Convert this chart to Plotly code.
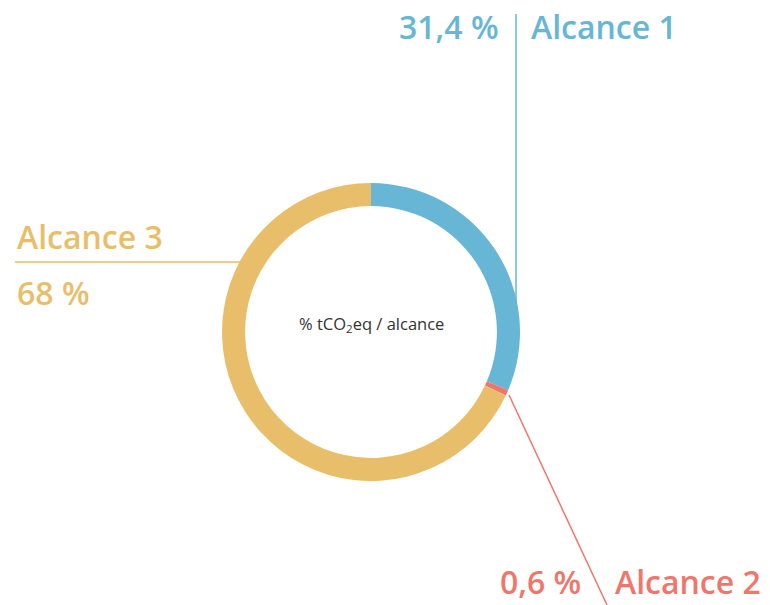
import plotly.graph_objects as go

labels = ["Alcance 1", "Alcance 2", "Alcance 3"]
values = [31.4, 0.6, 68.0]
pct_labels = ["31,4 %", "0,6 %", "68 %"]
colors = ["#67B6D5", "#F0766B", "#E9BE6B"]
center_text = "% tCO<sub>2</sub>eq / alcance"

W, H = 770, 605
cx, cy, R = 371, 332, 149

def px(x):
    return x / W

def py(y):
    return 1 - y / H

fig = go.Figure()
fig.add_trace(go.Pie(
    labels=labels, values=values, sort=False, direction="clockwise", rotation=0,
    hole=0.845, marker=dict(colors=colors, line=dict(width=0)),
    textinfo="none", hoverinfo="label+percent", showlegend=False,
    domain=dict(x=[px(cx - R), px(cx + R)], y=[py(cy + R), py(cy - R)]),
))

font_family = "'Open Sans', Lato, sans-serif"
shapes = [
    dict(type="line", xref="paper", yref="paper", x0=px(516), x1=px(516), y0=py(14), y1=py(302),
         line=dict(color=colors[0], width=1.5)),
    dict(type="line", xref="paper", yref="paper", x0=px(15), x1=px(240), y0=py(262), y1=py(262),
         line=dict(color=colors[2], width=1.5)),
    dict(type="line", xref="paper", yref="paper", x0=px(509), x1=px(607), y0=py(395), y1=py(605),
         line=dict(color=colors[1], width=1.5)),
]

big = dict(size=32, family=font_family, weight=600)
annotations = [
    dict(text=pct_labels[0], x=px(501), y=py(26), xanchor="right", yanchor="middle",
         font=dict(color=colors[0], **big)),
    dict(text=labels[0], x=px(529), y=py(26), xanchor="left", yanchor="middle",
         font=dict(color=colors[0], **big)),
    dict(text=labels[2], x=px(15), y=py(237), xanchor="left", yanchor="middle",
         font=dict(color=colors[2], **big)),
    dict(text=pct_labels[2], x=px(15), y=py(292), xanchor="left", yanchor="middle",
         font=dict(color=colors[2], **big)),
    dict(text=pct_labels[1], x=px(583), y=0, xanchor="right", yanchor="bottom",
         font=dict(color=colors[1], **big)),
    dict(text=labels[1], x=px(613), y=0, xanchor="left", yanchor="bottom",
         font=dict(color=colors[1], **big)),
    dict(text=center_text, x=px(371), y=py(324), xanchor="center", yanchor="middle",
         font=dict(size=16.5, color="#333333", family=font_family)),
]
for a in annotations:
    a.update(xref="paper", yref="paper", showarrow=False)

fig.update_layout(
    width=W, height=H, margin=dict(l=0, r=0, t=0, b=0),
    paper_bgcolor="white", plot_bgcolor="white",
    shapes=shapes, annotations=annotations,
)
fig.write_html("out.html", config={"displayModeBar": False},
               post_script="document.body.style.margin='0';")
